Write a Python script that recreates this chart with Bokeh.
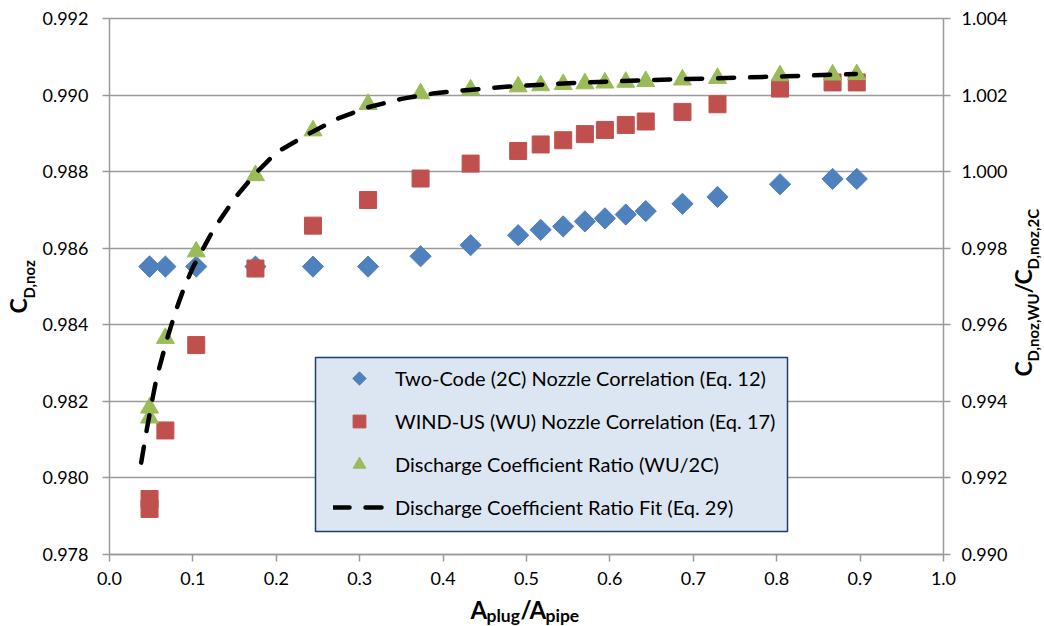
import numpy as np
from bokeh.plotting import figure
from bokeh.models import (Range1d, LinearAxis, FixedTicker, PrintfTickFormatter,
                          Legend, LegendItem, Label, BoxAnnotation)
from bokeh.embed import file_html
from bokeh.resources import INLINE

# Plug-to-pipe area ratio for each case
area_ratio = [0.048, 0.048, 0.067, 0.104, 0.175, 0.244, 0.310, 0.373, 0.433, 0.490,
              0.517, 0.544, 0.570, 0.594, 0.619, 0.643, 0.687, 0.729, 0.804, 0.867, 0.896]

# Nozzle discharge coefficients (left axis)
cd_two_code = [0.98552, 0.98552, 0.98552, 0.98552, 0.98552, 0.98552, 0.98552, 0.98579,
               0.98608, 0.98634, 0.98648, 0.98657, 0.98670, 0.98678, 0.98688, 0.98697,
               0.98716, 0.98734, 0.98767, 0.98781, 0.98781]
cd_wind_us = [0.97945, 0.97919, 0.98124, 0.98347, 0.98547, 0.98659, 0.98726, 0.98782,
              0.98821, 0.98854, 0.98871, 0.98882, 0.98898, 0.98909, 0.98922, 0.98931,
              0.98956, 0.98976, 0.99017, 0.99033, 0.99033]

# Discharge coefficient ratio WU/2C (right axis)
cd_ratio = [0.99383, 0.99357, 0.99565, 0.99791, 0.99990, 1.00107, 1.00176, 1.00204,
            1.00214, 1.00222, 1.00225, 1.00228, 1.00230, 1.00232, 1.00234, 1.00236,
            1.00240, 1.00244, 1.00251, 1.00253, 1.00254]

# Ratio fit curve (Eq. 29)
fit_x = [0.038, 0.045, 0.050, 0.055, 0.060, 0.070, 0.080, 0.090, 0.100, 0.125, 0.150,
         0.175, 0.200, 0.240, 0.275, 0.310, 0.350, 0.390, 0.475, 0.560, 0.645, 0.730,
         0.810, 0.895]
fit_ratio = [0.9924, 0.9933, 0.9939, 0.99445, 0.9949, 0.9957, 0.9964, 0.9970, 0.9975,
             0.9985, 0.9993, 0.99995, 1.0005, 1.0010, 1.0014, 1.00168, 1.00190, 1.00205,
             1.00222, 1.00232, 1.00239, 1.00244, 1.00249, 1.00255]

x_ticks = [0.0, 0.1, 0.2, 0.3, 0.4, 0.5, 0.6, 0.7, 0.8, 0.9, 1.0]
left_ticks = [0.978, 0.980, 0.982, 0.984, 0.986, 0.988, 0.990, 0.992]
right_ticks = [0.990, 0.992, 0.994, 0.996, 0.998, 1.000, 1.002, 1.004]

series_labels = ["Two-Code (2C) Nozzle Correlation (Eq. 12)",
                 "WIND-US (WU) Nozzle Correlation (Eq. 17)",
                 "Discharge Coefficient Ratio (WU/2C)",
                 "Discharge Coefficient Ratio Fit (Eq. 29)"]

BLUE, RED, GREEN = "#4f81bd", "#c0504d", "#9bbb59"
GRAY = "#9a9a9a"
FONT = "Lato"

# Canvas size and where the plotting box sits inside it (pixels from top-left).
W, H = 1044, 626
BOX_L, BOX_R, BOX_T, BOX_B = 109, 943, 18, 554
X_LO, X_HI = 0.0, 1.0
Y_LO, Y_HI = 0.978, 0.992
Y2_LO, Y2_HI = 0.990, 1.004

# The frame fills the whole canvas; the axes are pinned at the box edges so
# the titles can be drawn anywhere on the canvas.
kx = (BOX_R - BOX_L) / (X_HI - X_LO)
ky = (BOX_B - BOX_T) / (Y_HI - Y_LO)
x_range = Range1d(X_LO - BOX_L / kx, X_HI + (W - BOX_R) / kx)
y_range = Range1d(Y_LO - (H - BOX_B) / ky, Y_HI + BOX_T / ky)
y2_range = Range1d(Y2_LO - (H - BOX_B) / ky, Y2_HI + BOX_T / ky)


def to_data(cx, cy):
    return x_range.start + cx / kx, y_range.end - cy / ky


p = figure(width=W, height=H, output_backend="svg", toolbar_location=None,
           x_range=x_range, y_range=y_range, min_border=0,
           min_border_left=0, min_border_right=0, min_border_top=0, min_border_bottom=0,
           background_fill_color="white", border_fill_color="white")
p.outline_line_color = None
p.extra_y_ranges = {"ratio": y2_range}

right_axis = LinearAxis(y_range_name="ratio")
p.add_layout(right_axis, "right")

bottom_axis = p.xaxis[0]
left_axis = p.yaxis[0]
bottom_axis.fixed_location = Y_LO
left_axis.fixed_location = X_LO
right_axis.fixed_location = X_HI
bottom_axis.bounds = (X_LO, X_HI)
left_axis.bounds = (Y_LO, Y_HI)
right_axis.bounds = (Y2_LO, Y2_HI)

bottom_axis.ticker = FixedTicker(ticks=x_ticks)
bottom_axis.formatter = PrintfTickFormatter(format="%.1f")
left_axis.ticker = FixedTicker(ticks=left_ticks)
left_axis.formatter = PrintfTickFormatter(format="%.3f")
right_axis.ticker = FixedTicker(ticks=right_ticks)
right_axis.formatter = PrintfTickFormatter(format="%.3f")

for ax in [bottom_axis, left_axis, right_axis]:
    ax.axis_line_color = GRAY
    ax.axis_line_width = 1.5
    ax.major_tick_line_color = GRAY
    ax.major_tick_line_width = 1.5
    ax.major_tick_out = 7
    ax.major_tick_in = 0
    ax.minor_tick_line_color = None
    ax.major_label_text_font = FONT
    ax.major_label_text_font_size = "18px"
    ax.major_label_text_color = "#000000"
left_axis.major_label_standoff = 14
right_axis.major_label_standoff = 11
bottom_axis.major_label_standoff = 10

p.xgrid.visible = False
ygrid = p.ygrid[0]
ygrid.ticker = FixedTicker(ticks=left_ticks)
ygrid.grid_line_color = GRAY
ygrid.grid_line_width = 1.5
if "cross_bounds" in ygrid.properties():
    ygrid.cross_bounds = (X_LO, X_HI)
else:
    ygrid.visible = False
    p.segment(x0=X_LO, x1=X_HI, y0=left_ticks, y1=left_ticks,
              line_color=GRAY, line_width=1.5, level="underlay")

# legend panel, painted over the grid lines
p.add_layout(BoxAnnotation(left=315, right=787, top=H - 357, bottom=H - 531,
                           left_units="screen", right_units="screen",
                           top_units="screen", bottom_units="screen",
                           fill_color="#dce6f2", fill_alpha=1.0,
                           line_color="#1f3f6f", line_width=1.5, line_alpha=1.0,
                           level="underlay"))

r_2c = p.scatter(area_ratio, cd_two_code, marker="square", angle=np.pi / 4, size=15,
                 fill_color=BLUE, line_color=BLUE)
r_wu = p.scatter(area_ratio, cd_wind_us, marker="square", size=17,
                 fill_color=RED, line_color=RED)
r_ratio = p.scatter(area_ratio, cd_ratio, marker="triangle", size=18,
                    fill_color=GREEN, line_color=GREEN, y_range_name="ratio")
r_fit = p.line(fit_x, fit_ratio, line_color="black", line_width=4.5,
               line_dash="16 16", line_cap="round", y_range_name="ratio")

# legend: the diamond key is drawn as a turned square beside the first entry
LEG_X, LEG_TOP, ROW_H, ROW_GAP, KEY_W = 333, 362, 32, 11, 52
r_2c_key = p.scatter([], [], marker="square", fill_alpha=0.0, line_alpha=0.0)
key_x, key_y = to_data(LEG_X + KEY_W / 2, LEG_TOP + ROW_H / 2)
p.scatter([key_x], [key_y], marker="square", angle=np.pi / 4, size=9.5,
          fill_color=BLUE, line_color=BLUE)

leg_height = 4 * ROW_H + 3 * ROW_GAP
legend = Legend(items=[LegendItem(label=lbl, renderers=[r])
                       for lbl, r in zip(series_labels, [r_2c_key, r_wu, r_ratio, r_fit])],
                location=(LEG_X, H - LEG_TOP - leg_height), orientation="vertical",
                glyph_width=KEY_W, glyph_height=ROW_H, label_height=ROW_H,
                spacing=ROW_GAP, label_standoff=10, padding=0, margin=0,
                background_fill_alpha=0.0, border_line_color=None,
                label_text_font=FONT, label_text_font_size="20px",
                label_text_color="#000000")
p.add_layout(legend)


def title_piece(text, along, baseline, size, vertical=False):
    """Place one bold title fragment by its start point and its baseline."""
    drop = 0.32 * size  # the label box sits this far below its baseline anchor
    if vertical:
        cx, cy, angle = baseline - drop, along, np.pi / 2
    else:
        cx, cy, angle = along, baseline - drop, 0.0
    p.add_layout(Label(x=cx, y=H - cy, x_units="screen", y_units="screen",
                       text=text, angle=angle, text_font=FONT, text_font_style="bold",
                       text_font_size=f"{size}px", text_color="#000000",
                       text_align="left", text_baseline="alphabetic"))


# left axis title: C_D,noz
title_piece("C", 313, 25, 23, vertical=True)
title_piece("D,noz", 298, 33, 15, vertical=True)

# right axis title: C_D,noz,WU / C_D,noz,2C
title_piece("C", 376, 1030, 23, vertical=True)
title_piece("D,noz,WU", 361, 1037, 15, vertical=True)
title_piece("/", 293, 1030, 23, vertical=True)
title_piece("C", 284, 1030, 23, vertical=True)
title_piece("D,noz,2C", 269, 1037, 15, vertical=True)

# bottom axis title: A_plug / A_pipe
title_piece("A", 470, 617, 24)
title_piece("plug", 486, 621, 17.5)
title_piece("/", 520, 617, 24)
title_piece("A", 529, 617, 24)
title_piece("pipe", 545, 621, 17.5)

open("out.html", "w").write(file_html(p, INLINE))
